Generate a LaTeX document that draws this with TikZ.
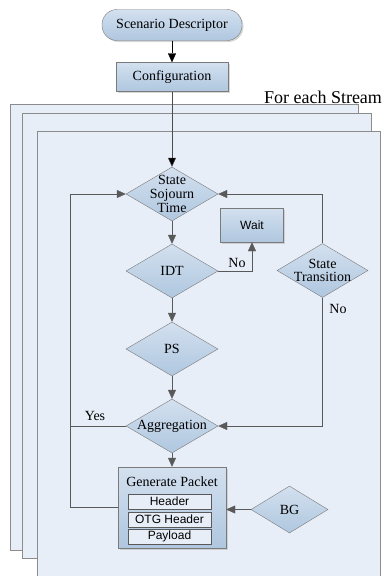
\documentclass[tikz,border=0pt]{standalone}
\usepackage{fontspec}
\setmainfont{Liberation Serif}
\setsansfont{Liberation Sans}
\usetikzlibrary{shapes.geometric,arrows.meta,shadows}
\definecolor{pagefill}{HTML}{E8EEF7}
\definecolor{pageline}{HTML}{8C8C8C}
\definecolor{boxtop}{HTML}{D3E0EF}
\definecolor{boxbot}{HTML}{AFC7DF}
\definecolor{flowline}{HTML}{595959}

\begin{document}
\begin{tikzpicture}[x=1pt,y=-1pt,
  font=\fontsize{14}{14}\selectfont,
  box/.style={draw=flowline!80, top color=boxtop, bottom color=boxbot, inner sep=0pt,
    drop shadow={shadow xshift=1.5pt,shadow yshift=-1.5pt,fill=black!30}},
  dia/.style={diamond, draw=flowline!80, top color=boxtop, bottom color=boxbot, inner sep=0pt,
    minimum width=92pt, minimum height=54pt},
  field/.style={draw=flowline, fill=pagefill, font=\sffamily\fontsize{12}{12}\selectfont,
    minimum width=83pt, minimum height=15pt, inner sep=0pt},
  flow/.style={draw=flowline, -{Triangle[length=9pt,width=8pt]}},
]
\useasboundingbox (0,0) rectangle (383,576);
% stacked stream pages
\foreach \l/\t/\r/\b in {10/104/358/550, 22/113/371/558, 37/131/380/590} {
\filldraw[fill=pagefill, draw=pageline, line width=0.8pt] (\l,\t) rectangle (\r,\b);
}
\node[font=\fontsize{18}{18}\selectfont] (each) at (323,97) {For each Stream};

% boxes
\node[box, rounded corners=15pt, minimum width=140pt, minimum height=31pt] (sd) at (172,25) {Scenario Descriptor};
\node[box, minimum width=112pt, minimum height=29pt] (cfg) at (172,77) {Configuration};
\node[box, minimum width=63pt, minimum height=34pt, font=\sffamily\fontsize{12}{12}\selectfont] (wait) at (252,225) {Wait};

% decisions
\node[dia, label={[align=center]center:State\\Sojourn\\Time}] (sst) at (172,194) {};
\node[dia, label=center:IDT] (idt) at (172,271) {};
\node[dia, label=center:PS] (ps) at (172,349) {};
\node[dia, label=center:Aggregation] (agg) at (172,426) {};
\node[dia, minimum width=91pt, label={[align=center,font=\fontsize{14}{13}\selectfont]center:State\\Transition}] (st) at (322.5,270.5) {};
\node[dia, minimum width=77pt, minimum height=47pt, label=center:BG] (bg) at (289.5,509.5) {};

% packet
\node[box, minimum width=108pt, minimum height=81pt] (gen) at (172,507.5) {};
\node (gen-t) at (172,482) {Generate Packet};
\node[field] (hdr) at (169.5,501.5) {Header};
\node[field] (otg) at (169.5,519.5) {OTG Header};
\node[field] (pay) at (169.5,536.5) {Payload};

% connectors
\coordinate (loop) at (70,194);
\draw[flow, draw=black] (sd) -- (cfg);
\draw[flow, draw=black!70, -{Triangle[length=9pt,width=8pt,fill=black]}] (cfg) -- (sst);
\draw[flow] (sst) -- (idt);
\draw[flow] (idt) -- (ps);
\draw[flow] (ps) -- (agg);
\draw[flow] (agg) -- (gen);
\draw[flow] (idt.east) -| (wait.south);
\draw[flow] (st.north) |- (sst.east);
\draw[flow] (st.south) |- (agg.east);
\draw[flow] (bg.west) -- (bg.west -| gen.east);
\draw[flow] (gen.west) -| (loop) -- (sst.west);
\draw[draw=flowline] (agg.west) -- (agg.west -| loop);

% branch labels
\node (no1) at (237,263) {No};
\node (no2) at (338,309) {No};
\node (yes) at (95,416) {Yes};
\end{tikzpicture}
\end{document}
